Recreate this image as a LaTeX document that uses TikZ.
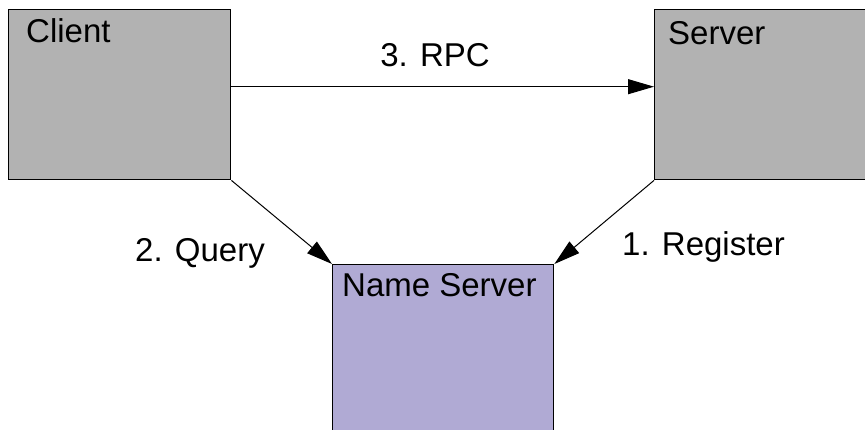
\documentclass[tikz,border=0pt]{standalone}
\usepackage{fontspec}
\setmainfont{Liberation Sans}
\usetikzlibrary{arrows.meta}
\definecolor{boxgray}{RGB}{178,178,178}
\definecolor{nspurple}{RGB}{176,170,212}
\begin{document}
\begin{tikzpicture}[x=1pt,y=-1pt,
  box/.style={draw=black,line width=1.4pt,inner sep=0pt,anchor=north west},
  lbl/.style={font=\fontsize{33}{40}\selectfont,inner sep=0pt},
  conn/.style={line width=1pt,-{Triangle[length=26pt,width=15pt]}}]
\useasboundingbox (0,0) rectangle (865,430);
\clip (0,0) rectangle (865,430);
\node[box,fill=boxgray,minimum width=222pt,minimum height=170pt] (client) at (8,9) {};
\node[box,fill=boxgray,minimum width=240pt,minimum height=170pt] (server) at (654,9) {};
\node[box,fill=nspurple,minimum width=221pt,minimum height=200pt] (ns) at (332,264) {};
\node[lbl,anchor=base west] (tclient) at (26,43) {Client};
\node[lbl,anchor=base west] (tserver) at (668,45) {Server};
\node[lbl,anchor=base west] (tns) at (342,297) {Name Server};
\draw[conn] ([yshift=8pt]client.east) -- ([yshift=8pt]client.east -| server.west);
\draw[conn] (client.south east) -- (ns.north west);
\draw[conn] (server.south west) -- (ns.north east);
\node[lbl,anchor=base] (trpc) at (435,67) {3. RPC};
\node[lbl,anchor=base west] (tquery) at (135,262) {2. Query};
\node[lbl,anchor=base west] (treg) at (622,256) {1. Register};
\end{tikzpicture}
\end{document}
